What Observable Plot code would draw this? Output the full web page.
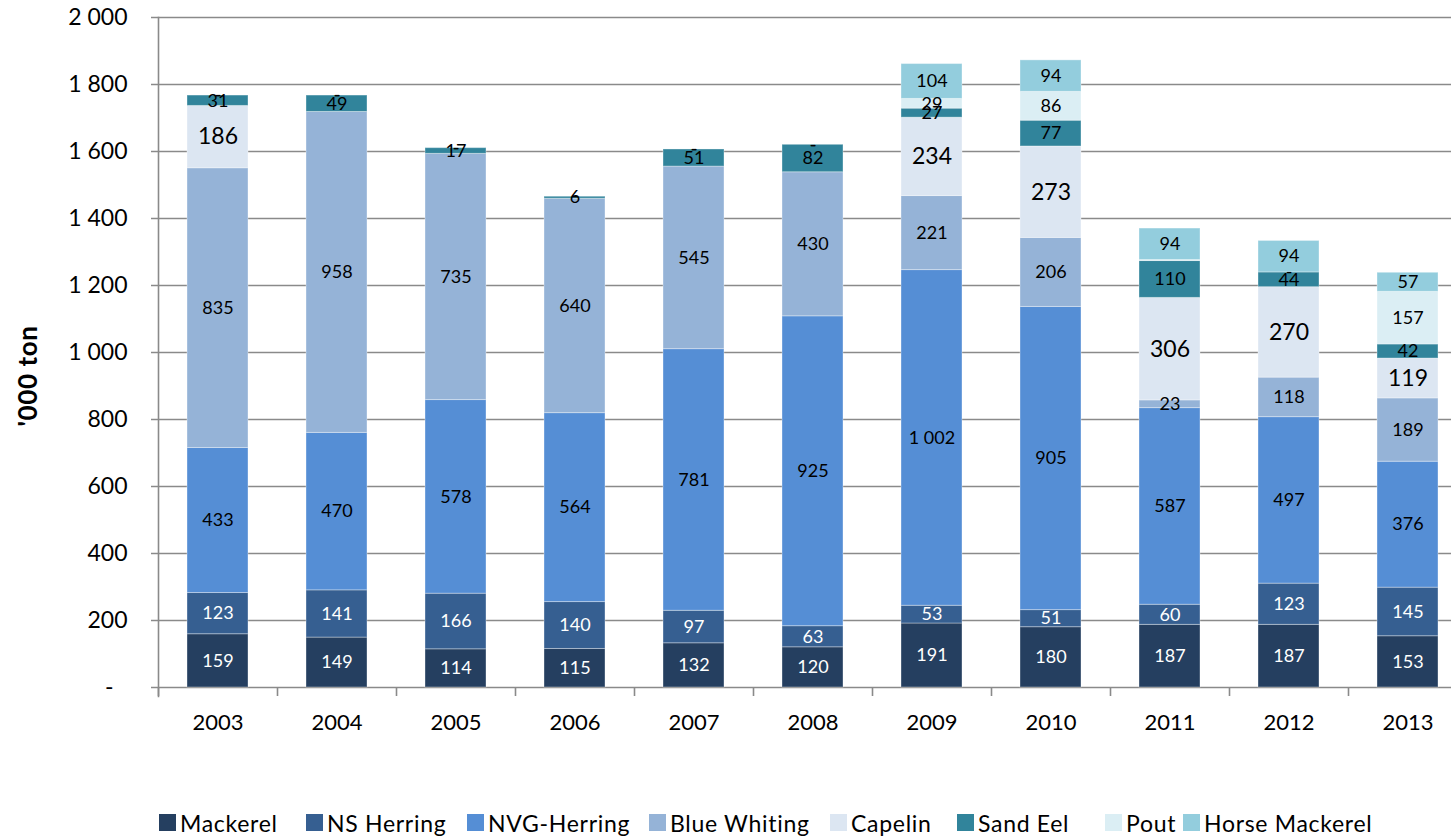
<!DOCTYPE html>
<html>
<head>
<meta charset="utf-8">
<script src="https://cdn.jsdelivr.net/npm/d3@7"></script>
<script src="https://cdn.jsdelivr.net/npm/@observablehq/plot@0.6"></script>
<style>
  html, body { margin: 0; padding: 0; background: #fff; overflow: hidden; width: 1451px; height: 837px; }
  #wrap { position: relative; width: 1451px; height: 837px; overflow: hidden; }
  #chart { position: absolute; left: 0; top: 0; }
  #ylabel { position: absolute; left: 27px; top: 376px; transform: translate(-50%, -50%) rotate(-90deg);
            font-family: Lato, sans-serif; font-weight: bold; font-size: 26px; letter-spacing: 0.6px; white-space: nowrap; color: #000; }
  #legend { position: absolute; left: 0; top: 808px; width: 1451px; height: 29px;
            font-family: Lato, sans-serif; font-size: 23px; color: #000; }
  .item { position: absolute; top: 0; display: flex; align-items: center; height: 29px; white-space: nowrap; letter-spacing: 0.7px; }
  .sw { width: 17px; height: 17px; margin-right: 4px; display: inline-block; }
</style>
</head>
<body>
<div id="wrap"><div id="chart"></div><div id="ylabel">'000 ton</div><div id="legend"></div></div>
<script>
const years = ["2003","2004","2005","2006","2007","2008","2009","2010","2011","2012","2013"];
const seriesNames = ["Mackerel","NS Herring","NVG-Herring","Blue Whiting","Capelin","Sand Eel","Pout","Horse Mackerel"];
const seriesColors = ["#253F60","#365F91","#558ED5","#95B3D7","#DCE6F2","#31849B","#DBEEF4","#93CDDD"];
const labelColors = ["#fff","#fff","#000","#000","#000","#000","#000","#000"];

const mackerel      = [159,149,114,115,132,120,191,180,187,187,153];
const nsHerring     = [123,141,166,140, 97, 63, 53, 51, 60,123,145];
const nvgHerring    = [433,470,578,564,781,925,1002,905,587,497,376];
const blueWhiting   = [835,958,735,640,545,430,221,206, 23,118,189];
const capelin       = [186,  0,  0,  0,  0,  0,234,273,306,270,119];
const sandEel       = [ 31, 49, 17,  6, 51, 82, 27, 77,110, 44, 42];
const pout          = [  0,  0,  0,  0,  0,  0, 29, 86,  3,  0,157];
const horseMackerel = [  0,  0,  0,  0,  0,  0,104, 94, 94, 94, 57];

const yTicks = [0,200,400,600,800,1000,1200,1400,1600,1800,2000];

// legend layout (left edge of each swatch, px)
const legendX = [159,306,467,649,830,957,1105,1183];

const allSeries = [mackerel,nsHerring,nvgHerring,blueWhiting,capelin,sandEel,pout,horseMackerel];

const rows = [];
years.forEach((yr, i) => {
  let base = 0;
  allSeries.forEach((arr, s) => {
    const v = arr[i];
    rows.push({year: yr, series: seriesNames[s], si: s, value: v, y1: base, y2: base + v, ym: base + v / 2});
    base += v;
  });
});

const fmt = v => d3.format(",")(v).replace(/,/g, " ");

const labelRows = rows.filter(d => {
  if (d.si === 4) return false;
  if (d.value === 0) return d.si >= 6;
  return d.value >= 5;
}).map(d => ({...d, text: d.value === 0 ? "-" : fmt(d.value)}));
const capelinRows = rows.filter(d => d.si === 4 && d.value > 0).map(d => ({...d, text: fmt(d.value)}));

const width = 1467, marginLeft = 158, step = (width - marginLeft) / years.length;

const chart = Plot.plot({
  width: width,
  height: 760,
  marginTop: 17,
  marginBottom: 73,
  marginLeft: marginLeft,
  marginRight: 0,
  style: {fontFamily: "Lato, sans-serif", background: "transparent", overflow: "visible"},
  x: {domain: years, paddingInner: 0.49, paddingOuter: 0.245, axis: null},
  y: {domain: [0, 2000], axis: null},
  color: {domain: seriesNames, range: seriesColors},
  marks: [
    Plot.gridY(yTicks, {stroke: "#8a8a8a", strokeOpacity: 1, strokeWidth: 1.6, insetLeft: -7}),
    Plot.axisY(yTicks, {tickSize: 0, tickPadding: 31, fontSize: 23, fill: "#000", letterSpacing: 0.6,
      tickFormat: d => d === 0 ? "-" : fmt(d), label: null}),
    Plot.ruleX(years, {x: d => d, dx: -step / 2, y1: 0, y2: 0, insetBottom: -9, stroke: "#8a8a8a", strokeWidth: 1.6}),
    Plot.frame({anchor: "left", stroke: "#8a8a8a", strokeWidth: 1.6, insetBottom: -9}),
    Plot.rectY(rows.filter(d => d.value > 0), {x: "year", y1: "y1", y2: "y2", fill: "series",
      stroke: "#ffffff", strokeOpacity: 0.35, strokeWidth: 1}),
    Plot.text(labelRows, {x: "year", y: "ym", text: "text", fontSize: 18,
      fill: d => labelColors[d.si], letterSpacing: 0.9}),
    Plot.text(capelinRows, {x: "year", y: "ym", text: "text", fontSize: 23,
      fill: "#000", letterSpacing: 0.8}),
    Plot.text(years, {x: d => d, y: 0, text: d => d, dy: 35, fontSize: 22, fill: "#000", letterSpacing: 0.5})
  ]
});
chart.style.maxWidth = "none";
document.getElementById("chart").appendChild(chart);

// zero tick of the y axis sits further left (accounting format)
d3.select(chart).selectAll("g[aria-label='y-axis tick label'] text").each(function() {
  if (this.textContent === "-") this.setAttribute("dx", "-14");
});

const legend = document.getElementById("legend");
seriesNames.forEach((n, i) => {
  const it = document.createElement("div");
  it.className = "item";
  it.style.left = legendX[i] + "px";
  it.innerHTML = `<span class="sw" style="background:${seriesColors[i]}"></span><span>${n}</span>`;
  legend.appendChild(it);
});
</script>
</body>
</html>
